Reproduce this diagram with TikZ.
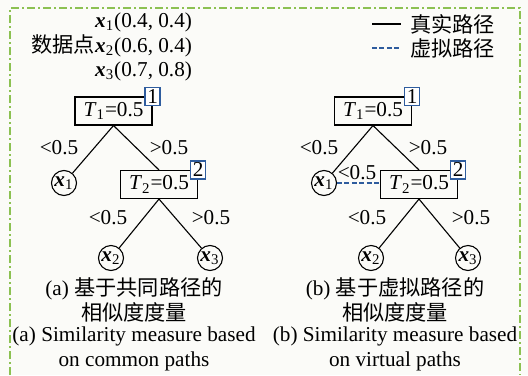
\documentclass[tikz,border=0pt]{standalone}
\usepackage{fontspec}
\setmainfont{Liberation Serif}
\newfontfamily\cjk{Noto Sans CJK SC}
\definecolor{frgreen}{HTML}{8CC152}
\definecolor{idblue}{HTML}{2E5C9E}
\definecolor{paper}{HTML}{FBFBF8}
\newcommand{\bx}[1]{\textbf{\textit{x}}\textsubscript{#1}}
\newcommand{\tv}[1]{\textit{T}\textsubscript{#1}=0.5}

\begin{document}
\begin{tikzpicture}[x=0.5pt, y=-0.5pt, font=\fontsize{10.6}{12.5}\selectfont,
  split/.style={draw, line width=0.55pt, minimum width=38.5pt, minimum height=14pt, inner sep=0pt},
  leaf/.style={draw, circle, line width=0.55pt, minimum size=12.5pt, inner sep=0pt},
  idbox/.style={draw=idblue, line width=0.6pt, fill=white, minimum width=7.5pt, minimum height=9pt, inner sep=0pt},
  branch/.style={line width=0.55pt},
  virt/.style={idblue, line width=0.6pt, dashed, dash pattern=on 2.5pt off 1.2pt}]

% Frame
\useasboundingbox (0,0) rectangle (528,375);
\fill[paper] (0,0) rectangle (528,375);
\draw[frgreen, line width=0.8pt, dash pattern=on 4pt off 1.5pt on 1pt off 1.5pt]
  (10,375) -- (10,8) -- (520,8) -- (520,375);

% Data points
\node[anchor=east] (pt1) at (199,22) {\bx{1}(0.4, 0.4)};
\node[anchor=east] (pt2) at (199,46) {{\cjk 数据点}\bx{2}(0.6, 0.4)};
\node[anchor=east] (pt3) at (199,71) {\bx{3}(0.7, 0.8)};

% Legend
\coordinate (lg1a) at (372,24);
\coordinate (lg1b) at (401,24);
\coordinate (lg2a) at (372,48);
\coordinate (lg2b) at (401,48);
\draw[branch] (lg1a) -- (lg1b);
\draw[virt] (lg2a) -- (lg2b);
\node[anchor=west, font=\fontsize{10.6}{12.5}\cjk] (lgt1) at (403,24) {真实路径};
\node[anchor=west, font=\fontsize{10.6}{12.5}\cjk] (lgt2) at (403,48) {虚拟路径};

% ============================================================
% (a) common paths
% ============================================================
\node[split] (a1) at (113.5,111) {\tv{1}};
\node[idbox] (a1n) at (a1.north east) {1};
\node[leaf] (ax1) at (64,183) {\bx{1}};
\node[split] (a2) at (159,184.5) {\tv{2}};
\node[idbox] (a2n) at (a2.north east) {2};
\node[leaf] (ax2) at (111,258) {\bx{2}};
\node[leaf] (ax3) at (210,258) {\bx{3}};

\draw[branch] (a1.south) -- (ax1);
\draw[branch] (a1.south) -- (a2.north);
\draw[branch] (a2.south) -- (ax2);
\draw[branch] (a2.south) -- (ax3);

\node (al1) at (59,148) {<0.5};
\node (ar1) at (169,148) {>0.5};
\node (al2) at (108,218) {<0.5};
\node (ar2) at (211,218) {>0.5};

\node[align=center] (acap1) at (134,300) {(a) {\cjk 基于共同路径的}\\{\cjk 相似度度量}};
\node[align=center] (acap2) at (134,349) {(a) Similarity measure based\\on common paths};

% ============================================================
% (b) virtual paths
% ============================================================
\node[split] (b1) at (373,111) {\tv{1}};
\node[idbox] (b1n) at (b1.north east) {1};
\node[leaf] (bx1) at (324,183) {\bx{1}};
\node[split] (b2) at (419,184.5) {\tv{2}};
\node[idbox] (b2n) at (b2.north east) {2};
\node[leaf] (bx2) at (371,258) {\bx{2}};
\node[leaf] (bx3) at (468,258) {\bx{3}};

\draw[branch] (b1.south) -- (bx1);
\draw[branch] (b1.south) -- (b2.north);
\draw[branch] (b2.south) -- (bx2);
\draw[branch] (b2.south) -- (bx3);
\draw[virt] (bx1.east) -- (bx1.east -| b2.west);

\node (bl1) at (319,148) {<0.5};
\node (br1) at (428,148) {>0.5};
\node (bv1) at (357,173) {<0.5};
\node (bl2) at (367,218) {<0.5};
\node (br2) at (471,218) {>0.5};

\node[align=center] (bcap1) at (395,300) {(b) {\cjk 基于虚拟路径的}\\{\cjk 相似度度量}};
\node[align=center] (bcap2) at (395,349) {(b) Similarity measure based\\on virtual paths};

\end{tikzpicture}
\end{document}
